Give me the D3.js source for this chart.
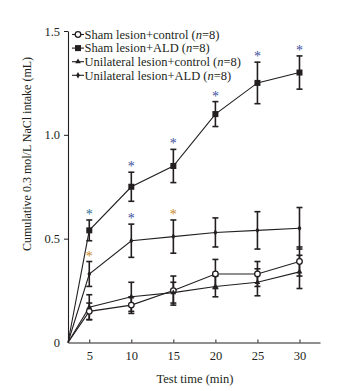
<!DOCTYPE html>
<html><head><meta charset="utf-8">
<script src="https://cdn.jsdelivr.net/npm/d3@7"></script>
<style>body{margin:0;background:#fff}svg{display:block}</style>
</head><body>
<svg id="c" width="339" height="391"></svg>
<script>
const times = [5, 10, 15, 20, 25, 30];
const xTicks = [5, 10, 15, 20, 25, 30];
const yTicks = [0, 0.5, 1.0, 1.5];
const yTickLabels = ["0", "0.5", "1.0", "1.5"];
const seriesNames = ["Sham lesion+control", "Sham lesion+ALD", "Unilateral lesion+control", "Unilateral lesion+ALD"];
const shamControl = [0.15, 0.18, 0.25, 0.33, 0.33, 0.39];
const shamControlErr = [0.04, 0.04, 0.07, 0.07, 0.06, 0.07];
const shamALD = [0.54, 0.75, 0.85, 1.10, 1.25, 1.30];
const shamALDErr = [0.05, 0.07, 0.08, 0.06, 0.10, 0.08];
const uniControl = [0.17, 0.22, 0.24, 0.27, 0.29, 0.34];
const uniControlErr = [0.06, 0.07, 0.05, 0.05, 0.065, 0.08];
const uniALD = [0.33, 0.49, 0.51, 0.53, 0.54, 0.55];
const uniALDErr = [0.06, 0.08, 0.08, 0.07, 0.09, 0.10];
// significance stars
const starsShamALD = [5, 10, 15, 20, 25, 30];
const starsUniALD = [5, 10, 15];
const starColorsShamALD = ["#2f6f8f", "#3b4f9a", "#3b4f9a", "#3b4f9a", "#3b4f9a", "#3b4f9a"];
const starColorsUniALD = ["#c8862a", "#3b4f9a", "#c8862a"];

const ink = "#231f20";
const font = "'Liberation Serif','Times New Roman',serif";
const svg = d3.select("#c");
const x = d3.scaleLinear().domain([2.47, 32.44]).range([68, 320]);
const y = d3.scaleLinear().domain([0, 1.5]).range([342.5, 31]);

// axes
const xAxis = svg.append("g").attr("transform", `translate(0,${y(0)})`)
  .call(d3.axisBottom(x).tickValues(xTicks).tickSizeInner(-3).tickSizeOuter(0).tickPadding(9));
const yAxis = svg.append("g").attr("transform", `translate(${x.range()[0]},0)`)
  .call(d3.axisLeft(y).tickValues(yTicks).tickFormat((d,i)=>yTickLabels[i]).tickSizeInner(4).tickSizeOuter(0).tickPadding(4));
[xAxis, yAxis].forEach(g => {
  g.select(".domain").attr("stroke", ink).attr("stroke-width", 1.1);
  g.selectAll(".tick line").attr("stroke", ink);
  g.selectAll("text").attr("fill", ink).style("font-family", font).style("font-size", "12.5px");
});
yAxis.selectAll(".tick").filter(d => d === 0).select("line").remove();

svg.append("text").attr("x", 195).attr("y", 383).attr("text-anchor", "middle")
  .style("font-family", font).style("font-size", "12.5px").attr("fill", ink).text("Test time (min)");
svg.append("text").attr("transform", "translate(31,154) rotate(-90)").attr("text-anchor", "middle")
  .style("font-family", font).style("font-size", "12px").attr("fill", ink)
  .text("Cumulative 0.3 mol/L NaCl intake (mL)");

const series = [
  {vals: shamControl, err: shamControlErr, marker: "circle"},
  {vals: shamALD, err: shamALDErr, marker: "square"},
  {vals: uniControl, err: uniControlErr, marker: "triangle"},
  {vals: uniALD, err: uniALDErr, marker: "diamond"}
];
const line = d3.line().x(d => x(d[0])).y(d => y(d[1]));
function drawMarker(g, type, cx, cy) {
  if (type === "circle") g.append("circle").attr("cx", cx).attr("cy", cy).attr("r", 2.8).attr("fill", "#fff").attr("stroke", ink).attr("stroke-width", 1.3);
  else if (type === "square") g.append("rect").attr("x", cx-3).attr("y", cy-3).attr("width", 6).attr("height", 6).attr("fill", ink);
  else if (type === "triangle") g.append("path").attr("d", d3.symbol(d3.symbolTriangle, 14)()).attr("transform", `translate(${cx},${cy})`).attr("fill", ink);
  else g.append("path").attr("d", d3.symbol(d3.symbolDiamond, 12)()).attr("transform", `translate(${cx},${cy})`).attr("fill", ink);
}
const plot = svg.append("g");
series.forEach(s => {
  const pts = [[x.domain()[0], 0]].concat(times.map((t, i) => [t, s.vals[i]]));
  plot.append("path").attr("d", line(pts)).attr("fill", "none").attr("stroke", ink).attr("stroke-width", 1.1);
});
series.forEach(s => {
  times.forEach((t, i) => {
    const cx = x(t), top = y(s.vals[i] + s.err[i]), bot = y(s.vals[i] - s.err[i]);
    const g = plot.append("g").attr("stroke", ink).attr("stroke-width", 1.6);
    g.append("line").attr("x1", cx).attr("x2", cx).attr("y1", top).attr("y2", bot);
    g.append("line").attr("x1", cx-3).attr("x2", cx+3).attr("y1", top).attr("y2", top);
    g.append("line").attr("x1", cx-3).attr("x2", cx+3).attr("y1", bot).attr("y2", bot);
  });
});
series.forEach(s => times.forEach((t, i) => drawMarker(plot, s.marker, x(t), y(s.vals[i]))));

function stars(list, s, colors) {
  list.forEach((t, k) => {
    const i = times.indexOf(t);
    svg.append("text").attr("x", x(t)).attr("y", y(s.vals[i] + s.err[i]) - 1).attr("text-anchor", "middle")
      .style("font-family", font).style("font-size", "14px").attr("fill", colors[k]).text("*");
  });
}
stars(starsShamALD, series[1], starColorsShamALD);
stars(starsUniALD, series[3], starColorsUniALD);

// legend
const leg = svg.append("g");
seriesNames.forEach((n, i) => {
  const ly = 34.5 + i * 13.6;
  leg.append("line").attr("x1", 72).attr("x2", 84).attr("y1", ly).attr("y2", ly).attr("stroke", ink).attr("stroke-width", 1.1);
  drawMarker(leg, series[i].marker, 78, ly);
  const t = leg.append("text").attr("x", 84.5).attr("y", ly + 4.3).style("font-family", font).style("font-size", "12.5px").attr("fill", ink);
  t.append("tspan").text(n + " (");
  t.append("tspan").attr("font-style", "italic").text("n");
  t.append("tspan").text("=8)");
});
</script>
</body></html>
